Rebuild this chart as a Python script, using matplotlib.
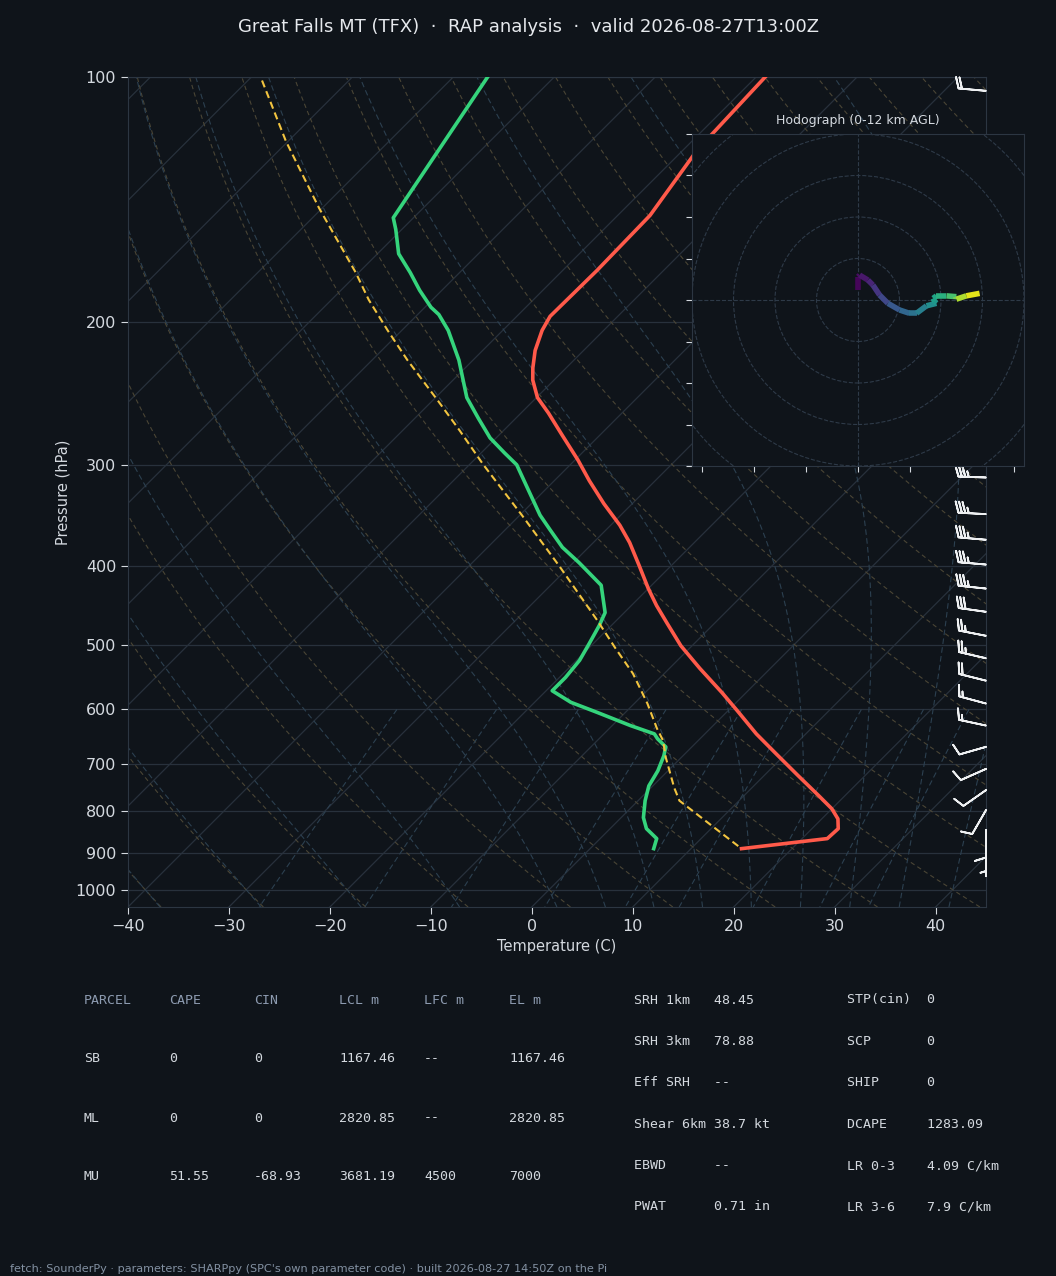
import numpy as np
import matplotlib
matplotlib.use('Agg')
import matplotlib.pyplot as plt
from matplotlib.collections import LineCollection
from matplotlib.patches import Circle
from matplotlib.ticker import NullLocator, NullFormatter
from matplotlib.transforms import blended_transform_factory

# ---- sounding ----
t_pres = [100, 123, 148, 173, 197, 205, 217, 228, 236, 248, 259, 276, 296, 314, 335, 356,
          374, 399, 426, 447, 470, 501, 534, 572, 602, 643, 680, 724, 766, 795, 818, 841,
          865, 890]
t_temp = [-59.1, -58.6, -56.8, -56.6, -56.7, -56.1, -54.8, -53.3, -52.1, -49.9, -47.3,
          -43.7, -39.7, -36.5, -32.8, -29.1, -26.4, -23.2, -20.0, -17.5, -14.7, -11.1,
          -7.0, -2.4, 0.9, 5.1, 9.0, 13.4, 17.4, 20.0, 21.6, 22.6, 22.5, 15.0]

td_pres = [100, 149, 154, 165, 174, 183, 192, 196, 205, 223, 248, 263, 278, 290, 300, 320,
           346, 361, 379, 396, 422, 456, 473, 498, 522, 548, 569, 588, 605, 628, 643, 652,
           667, 684, 714, 745, 777, 815, 841, 865, 890]
td_dewp = [-86.6, -82.0, -80.6, -77.9, -74.9, -72.2, -69.4, -67.9, -65.4, -61.4, -56.9,
           -53.7, -50.6, -47.7, -45.3, -42.0, -38.0, -35.5, -32.6, -29.4, -25.0, -21.9,
           -21.2, -20.4, -19.7, -19.4, -19.4, -16.4, -12.8, -8.2, -5.0, -4.2, -2.6, -1.9,
           -1.0, -0.4, 0.7, 2.2, 3.6, 5.6, 6.3]

prof_pres = [101, 120, 145, 174, 188, 205, 223, 250, 272, 300, 346, 400, 441, 467, 504,
             542, 590, 633, 655, 688, 749, 777, 890]
prof_temp = [-108.6, -100.2, -90.3, -80.3, -76.3, -71.4, -66.5, -59.5, -54.4, -48.6,
             -39.8, -31.0, -25.2, -21.8, -17.4, -13.1, -8.7, -5.3, -3.5, -1.5, 2.3, 4.1,
             15.0]

# wind barbs (kt, direction from)
barb_pres = [104, 311, 345, 371, 398, 426, 455, 487, 519, 553, 590, 628, 667, 710, 754,
             798, 844, 890]
barb_spd = [20, 35, 35, 35, 35, 35, 30, 25, 25, 20, 15, 15, 10, 10, 10, 10, 10, 5]
barb_dir = [275, 272, 273, 275, 275, 276, 278, 281, 283, 284, 285, 282, 254, 246, 235,
            210, 180, 180]

# hodograph trace
hodo_u = [0.0, 0.0, 0.4, 2.4, 3.6, 5.2, 7.2, 10.0, 12.4, 14.1, 16.5, 18.9, 18.5, 18.1,
          18.9, 21.3, 23.7, 23.7, 26.1, 29.3]
hodo_v = [2.4, 5.6, 6.0, 4.8, 3.6, 1.2, -0.8, -2.4, -3.2, -3.2, -1.4, -0.8, -0.4, 0.4,
          1.0, 1.0, 0.8, 0.2, 1.0, 1.6]
hodo_hgt = [0.0, 0.3, 0.5, 1.0, 1.5, 2.2, 2.9, 3.6, 4.2, 4.8, 5.5, 6.2, 6.5, 6.8, 7.2,
            8.0, 9.0, 10.0, 11.0, 12.0]

# parameter table
tbl_head = ['PARCEL', 'CAPE', 'CIN', 'LCL m', 'LFC m', 'EL m']
tbl_rows = [['SB', '0', '0', '1167.46', '--', '1167.46'],
            ['ML', '0', '0', '2820.85', '--', '2820.85'],
            ['MU', '51.55', '-68.93', '3681.19', '4500', '7000']]
kin_names = ['SRH 1km', 'SRH 3km', 'Eff SRH', 'Shear 6km', 'EBWD', 'PWAT']
kin_vals = ['48.45', '78.88', '--', '38.7 kt', '--', '0.71 in']
thermo_names = ['STP(cin)', 'SCP', 'SHIP', 'DCAPE', 'LR 0-3', 'LR 3-6']
thermo_vals = ['0', '0', '0', '1283.09', '4.09 C/km', '7.9 C/km']

BG = '#0f141a'
GRID = '#28313c'
TXT = '#d4d9df'

W_PX, H_PX = 1056, 1276
fig = plt.figure(figsize=(W_PX / 100, H_PX / 100), dpi=100, facecolor=BG)


def rect(x0, y0, x1, y1):
    return [x0 / W_PX, 1 - y1 / H_PX, (x1 - x0) / W_PX, (y1 - y0) / H_PX]


PBOT, PTOP = 1050, 100
XMIN, XMAX = -40, 45
ax = fig.add_axes(rect(128, 77, 986, 907))
ax.set_facecolor(BG)
ax.set_yscale('log')
ax.set_ylim(PBOT, PTOP)
ax.set_xlim(XMIN, XMAX)

# 45 degree skew
K = ((830 / np.log10(PBOT / PTOP)) / (858 / (XMAX - XMIN)))


def skew(t, p):
    return np.asarray(t, float) + K * (np.log10(PBOT) - np.log10(np.asarray(p, float)))


# background: isobars, isotherms
p_ticks = [100, 200, 300, 400, 500, 600, 700, 800, 900, 1000]
for p in p_ticks:
    ax.axhline(p, color=GRID, lw=0.9, zorder=1)
pp = np.array([PBOT, PTOP])
for t in range(-130, 60, 10):
    ax.plot(skew([t, t], pp), pp, color=GRID, lw=0.9, zorder=1)

# dry adiabats
pg = np.linspace(PBOT, PTOP, 200)
for t0 in range(-40, 260, 10):
    th = t0 + 273.15
    ax.plot(skew(th * (pg / 1000.) ** 0.2857 - 273.15, pg), pg, color='#4a4535',
            lw=0.8, ls=(0, (4, 3)), zorder=1)


# moist adiabats
def dtdp(t, p):
    es = 6.112 * np.exp(17.67 * (t - 273.15) / (t - 29.65))
    rs = 0.622 * es / (p - es)
    return (287.04 * t + 2.501e6 * rs) / (1005.7 + 2.501e6 ** 2 * rs * 0.622 / (287.04 * t * t)) / p


def integrate(t0, pgrid):
    out = [t0]
    t = t0
    for i in range(1, len(pgrid)):
        p = pgrid[i - 1]
        h = pgrid[i] - p
        k1 = dtdp(t, p)
        k2 = dtdp(t + h / 2 * k1, p + h / 2)
        k3 = dtdp(t + h / 2 * k2, p + h / 2)
        k4 = dtdp(t + h * k3, p + h)
        t = t + h / 6 * (k1 + 2 * k2 + 2 * k3 + k4)
        out.append(t)
    return np.array(out)


p_up = np.linspace(1000, PTOP, 300)
p_dn = np.linspace(1000, PBOT, 10)
for t0 in list(range(-40, 0, 10)) + list(range(0, 46, 5)):
    tk = t0 + 273.15
    tm = np.concatenate([integrate(tk, p_dn)[::-1], integrate(tk, p_up)[1:]])
    pm = np.concatenate([p_dn[::-1], p_up[1:]])
    ax.plot(skew(tm - 273.15, pm), pm, color='#2c4050', lw=0.8, ls=(0, (5, 3)), zorder=1)

# mixing ratio lines
pmx = np.linspace(600, PBOT, 50)
for w in [0.0004, 0.001, 0.002, 0.004, 0.007, 0.01, 0.016, 0.024, 0.032]:
    e = w * pmx / (0.622 + w)
    lg = np.log(e / 6.112)
    td = 243.5 * lg / (17.67 - lg)
    ax.plot(skew(td, pmx), pmx, color='#2c4050', lw=0.8, ls=(0, (5, 3)), zorder=1)

# profiles
ax.plot(skew(t_temp, t_pres), t_pres, color='#ff5a4a', lw=2.6, zorder=5)
ax.plot(skew(td_dewp, td_pres), td_pres, color='#35d47c', lw=2.6, zorder=5)
ax.plot(skew(prof_temp, prof_pres), prof_pres, color='#f2c440', lw=1.5, ls=(0, (3.5, 2)),
        zorder=6)

# barbs along the right edge
wd = np.deg2rad(barb_dir)
bu = -np.array(barb_spd) * np.sin(wd)
bv = -np.array(barb_spd) * np.cos(wd)
trans = blended_transform_factory(ax.transAxes, ax.transData)
ax.barbs(np.ones(len(barb_pres)), barb_pres, bu, bv, transform=trans, length=6.3,
         color='#eef0f2', linewidth=1.3, clip_on=False, zorder=7)

ax.set_yticks(p_ticks)
ax.set_yticklabels([str(p) for p in p_ticks])
ax.yaxis.set_minor_locator(NullLocator())
ax.yaxis.set_minor_formatter(NullFormatter())
ax.set_xticks(range(-40, 41, 10))
ax.tick_params(colors=TXT, labelsize=11.5, length=5)
for s in ax.spines.values():
    s.set_color('#2c3642')
ax.set_ylabel('Pressure (hPa)', color=TXT, fontsize=10.5)
ax.set_xlabel('Temperature (C)', color=TXT, fontsize=10.5)

fig.text(0.5, 1 - 27 / H_PX, 'Great Falls MT (TFX)  \u00b7  RAP analysis  \u00b7  valid 2026-08-27T13:00Z',
         ha='center', va='center', color='#e6e9ed', fontsize=13)

# hodograph inset
hax = fig.add_axes(rect(692, 134, 1024, 466))
hax.set_facecolor(BG)
hax.set_xlim(-40, 40)
hax.set_ylim(-40, 40)
for r in range(10, 60, 10):
    hax.add_patch(Circle((0, 0), r, fill=False, ls='--', lw=0.8, color='#2e3a48'))
hax.axhline(0, color='#2e3a48', lw=0.8, ls='--')
hax.axvline(0, color='#2e3a48', lw=0.8, ls='--')
pts = np.array([hodo_u, hodo_v]).T.reshape(-1, 1, 2)
segs = np.concatenate([pts[:-1], pts[1:]], axis=1)
mid = (np.array(hodo_hgt[:-1]) + np.array(hodo_hgt[1:])) / 2
lc = LineCollection(segs, cmap='viridis', norm=plt.Normalize(0, 12), linewidths=4,
                    capstyle='butt')
lc.set_array(mid)
hax.add_collection(lc)
hax.set_xticks(np.arange(-37.5, 38, 12.5))
hax.set_yticks(range(-40, 41, 10))
hax.set_xticklabels([])
hax.set_yticklabels([])
hax.tick_params(colors=TXT, length=4)
for s in hax.spines.values():
    s.set_color('#2c3642')
hax.set_title('Hodograph (0-12 km AGL)', color=TXT, fontsize=9, pad=7)

# parameter table
col_x = [84, 169, 254, 339, 424, 509]
row_y = [1000, 1059, 1118, 1176]
for j, h in enumerate(tbl_head):
    fig.text(col_x[j] / W_PX, 1 - row_y[0] / H_PX, h, family='DejaVu Sans Mono',
             fontsize=9.5, color='#8d9bb0', va='center')
for i, row in enumerate(tbl_rows):
    for j, c in enumerate(row):
        fig.text(col_x[j] / W_PX, 1 - row_y[i + 1] / H_PX, c, family='DejaVu Sans Mono',
                 fontsize=9.5, color=TXT, va='center')
for i in range(6):
    y = 1 - (1000 + i * 41.4) / H_PX
    fig.text(634 / W_PX, y, f'{kin_names[i]:<10}{kin_vals[i]}', family='DejaVu Sans Mono',
             fontsize=9.5, color=TXT, va='center')
    fig.text(847 / W_PX, y, f'{thermo_names[i]:<10}{thermo_vals[i]}',
             family='DejaVu Sans Mono', fontsize=9.5, color=TXT, va='center')

fig.text(10 / W_PX, 1 - 1269 / H_PX,
         "fetch: SounderPy \u00b7 parameters: SHARPpy (SPC's own parameter code) \u00b7 built 2026-08-27 14:50Z on the Pi",
         fontsize=8.1, color='#8391a2', va='center')

fig.savefig('out.png', dpi=100, facecolor=BG)
